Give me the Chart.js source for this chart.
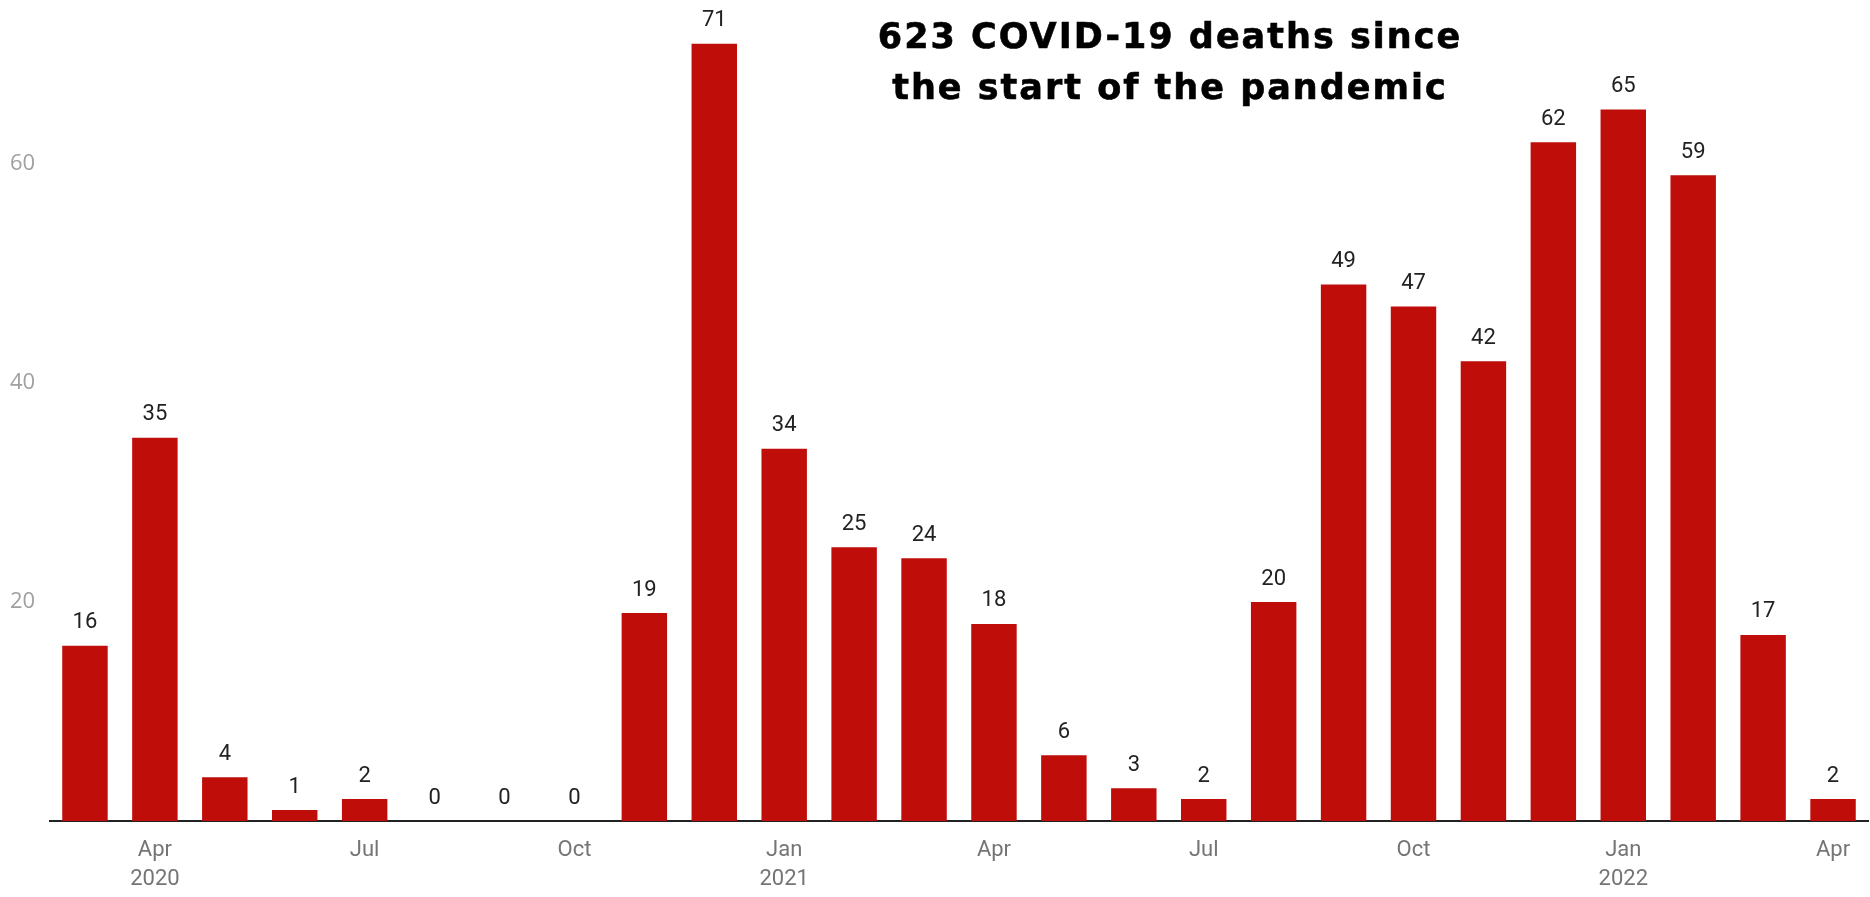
<!DOCTYPE html>
<html>
<head>
<meta charset="utf-8">
<script src="https://cdn.jsdelivr.net/npm/chart.js@4"></script>
<style>
  html, body { margin: 0; padding: 0; background: #fff; }
  #wrap { position: relative; width: 1870px; height: 897px; }
  #title {
    position: absolute;
    left: 845px;
    top: 11px;
    width: 650px;
    text-align: center;
    font-family: "DejaVu Sans", sans-serif;
    font-weight: bold;
    font-size: 35px;
    letter-spacing: 2px;
    line-height: 51px;
    color: #000;
    -webkit-text-stroke: 0.6px #000;
  }
</style>
</head>
<body>
<div id="wrap">
  <canvas id="chart" width="1870" height="897"></canvas>
  <div id="title">623 COVID-19 deaths since<br>the start of the pandemic</div>
</div>
<script>
// meses, de março 2020 a abril 2022
const months = [
  "Mar 2020", "Apr 2020", "May 2020", "Jun 2020", "Jul 2020", "Aug 2020",
  "Sep 2020", "Oct 2020", "Nov 2020", "Dec 2020", "Jan 2021", "Feb 2021",
  "Mar 2021", "Apr 2021", "May 2021", "Jun 2021", "Jul 2021", "Aug 2021",
  "Sep 2021", "Oct 2021", "Nov 2021", "Dec 2021", "Jan 2022", "Feb 2022",
  "Mar 2022", "Apr 2022"
];
const deaths = [16, 35, 4, 1, 2, 0, 0, 0, 19, 71, 34, 25, 24, 18, 6, 3, 2, 20, 49, 47, 42, 62, 65, 59, 17, 2];

// rótulos do eixo x (só alguns meses)
const xTickLabels = [
  "", ["Apr", "2020"], "", "", "Jul", "", "", "Oct", "", "",
  ["Jan", "2021"], "", "", "Apr", "", "", "Jul", "", "", "Oct", "", "",
  ["Jan", "2022"], "", "", "Apr"
];
const yTicks = [20, 40, 60];

// Plugin para escrever o valor acima de cada barra
const valueLabels = {
  id: "valueLabels",
  afterDatasetsDraw(chart) {
    const ctx = chart.ctx;
    const meta = chart.getDatasetMeta(0);
    ctx.save();
    ctx.font = "22px Roboto";
    ctx.fillStyle = "#222";
    ctx.textAlign = "center";
    ctx.textBaseline = "middle";
    meta.data.forEach((bar, i) => {
      ctx.fillText(String(deaths[i]), bar.x, bar.y - 23);
    });
    ctx.restore();
  }
};

new Chart(document.getElementById("chart"), {
  type: "bar",
  data: {
    labels: months,
    datasets: [
      {
        data: deaths,
        backgroundColor: "#bf0d0a",
        categoryPercentage: 1,
        barPercentage: 0.65
      }
    ]
  },
  options: {
    responsive: false,
    animation: false,
    layout: { padding: { left: 10, right: 2, top: 0, bottom: 0 } },
    plugins: {
      legend: { display: false },
      tooltip: { enabled: false }
    },
    scales: {
      x: {
        grid: { display: false, drawTicks: false },
        border: { display: true, color: "#222", width: 2 },
        afterFit: (axis) => {
          axis.height = 76;
          axis.paddingLeft = 0;
          axis.paddingRight = 0;
        },
        ticks: {
          autoSkip: false,
          maxRotation: 0,
          padding: 15,
          color: "#757575",
          font: { family: "Roboto", size: 22, lineHeight: 1.32 },
          callback: (v, i) => xTickLabels[i]
        }
      },
      y: {
        min: 0,
        max: 75,
        grid: { display: false, drawTicks: false },
        border: { display: false },
        afterFit: (axis) => {
          axis.width = 40;
          axis.paddingTop = 0;
          axis.paddingBottom = 0;
        },
        ticks: {
          stepSize: 20,
          crossAlign: "far",
          padding: 0,
          color: "#a0a0a0",
          font: { family: "Open Sans", size: 22 },
          callback: (v) => (yTicks.includes(v) ? v : "")
        }
      }
    }
  },
  plugins: [valueLabels]
});
</script>
</body>
</html>
